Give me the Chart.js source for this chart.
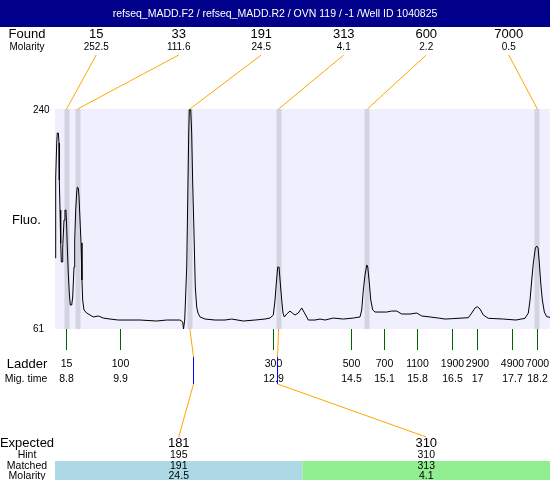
<!DOCTYPE html>
<html><head><meta charset="utf-8">
<script src="https://cdn.jsdelivr.net/npm/chart.js@4"></script>
<style>html,body{margin:0;padding:0;background:#fff;overflow:hidden}canvas{display:block}</style>
</head><body>
<canvas id="c" width="550" height="480"></canvas>
<script>
// ---------------- data ----------------
const titleText = "refseq_MADD.F2 / refseq_MADD.R2 / OVN 119 / -1 /Well ID 1040825";
const yTicks = [61, 240];
const timeRange = [8.58, 18.452];

// fluorescence trace (migration time, fluorescence)
const traceTimes = [8.586,8.594,8.614,8.626,8.646,8.660,8.666,8.680,8.694,8.706,8.726,8.734,8.760,8.779,8.799,8.813,8.825,8.845,8.865,8.885,8.913,8.933,8.959,8.973,8.993,9.013,9.025,9.045,9.059,9.079,9.099,9.118,9.132,9.158,9.212,9.278,9.344,9.444,9.543,9.677,9.842,10.275,10.608,10.808,11.073,11.127,11.143,11.167,11.207,11.227,11.247,11.259,11.287,11.306,11.326,11.352,11.378,11.406,11.432,11.472,11.572,11.771,11.971,12.104,12.336,12.569,12.769,12.868,12.934,12.968,12.994,13.022,13.048,13.073,13.101,13.127,13.153,13.201,13.267,13.313,13.367,13.432,13.500,13.546,13.600,13.632,13.765,13.865,13.965,14.130,14.330,14.529,14.663,14.697,14.729,14.763,14.797,14.817,14.849,14.877,14.916,14.962,15.062,15.196,15.295,15.395,15.495,15.660,15.794,15.894,16.059,16.225,16.358,16.492,16.823,16.891,16.957,17.002,17.056,17.122,17.222,17.521,17.774,17.954,18.020,18.054,18.088,18.120,18.160,18.188,18.214,18.239,18.267,18.299,18.339,18.387,18.453];
const traceValues = [118.8,183.9,212.3,220.5,220.5,212.3,182.2,157.8,131.0,115.5,115.5,127.7,149.7,157.8,157.8,144.0,127.7,106.6,90.3,80.5,80.5,87.0,111.4,133.4,157.8,172.5,176.5,175.7,168.4,149.7,131.0,100.9,84.6,76.5,74.0,72.4,70.8,71.6,69.9,69.1,68.3,68.3,67.5,68.3,68.3,66.7,61.0,68.3,111.4,166.0,220.5,239.4,239.4,220.5,179.8,139.1,95.2,78.9,74.0,70.8,69.1,68.3,68.3,69.1,67.5,68.3,69.1,69.9,72.4,84.6,98.4,111.4,111.4,98.4,84.6,74.0,70.8,73.2,75.6,74.0,72.4,74.0,78.1,74.8,70.8,68.3,68.3,69.1,68.3,69.9,69.1,69.9,70.8,76.5,92.7,104.9,113.1,111.4,98.4,84.6,76.5,74.8,74.8,74.8,75.6,75.6,73.2,73.2,74.0,71.6,70.8,69.9,69.1,69.4,70.2,74.0,78.1,79.1,77.3,72.4,69.7,69.1,68.3,69.7,74.0,84.6,100.9,114.7,126.9,128.5,126.9,114.7,98.4,84.6,74.8,71.0,70.5];

// found peaks
const foundSizes = [15, 33, 191, 313, 600, 7000];
const foundMolarity = [252.5, 111.6, 24.5, 4.1, 2.2, 0.5];
const foundTimes = [8.81, 9.03, 11.27, 13.04, 14.81, 18.20];

// ladder
const ladderSizes = [15, 100, 300, 500, 700, 1100, 1900, 2900, 4900, 7000];
const ladderTimes = [8.8, 9.88, 12.93, 14.48, 15.14, 15.79, 16.49, 17.0, 17.69, 18.2];

// expected / matched table
const expectedSizes = [181, 310];
const hintSizes = [195, 310];
const hintTimes = [11.34, 13.01];
const matchedSizes = [191, 313];
const matchedMolarity = [24.5, 4.1];
const matchedFoundIndex = [2, 3];
const matchColors = ['#ADD8E6', '#90EE90'];

// ---------------- drawing ----------------
const FONT = '"Liberation Sans", Arial, sans-serif';
function txt(ctx, s, x, y, size, align, color) {
  ctx.font = size + 'px ' + FONT;
  ctx.textAlign = align || 'center';
  ctx.textBaseline = 'middle';
  ctx.fillStyle = color || '#000';
  ctx.fillText(String(s), x, y);
}
function line(ctx, x1, y1, x2, y2, color) {
  ctx.beginPath();
  ctx.strokeStyle = color;
  ctx.lineWidth = 1;
  ctx.moveTo(x1, y1); ctx.lineTo(x2, y2);
  ctx.stroke();
}

const decor = {
  id: 'decor',
  beforeDatasetsDraw(chart) {
    const {ctx, chartArea: a, scales: {x}} = chart;
    ctx.save();
    ctx.fillStyle = '#EFEFFD';
    ctx.fillRect(a.left, a.top, a.right - a.left, a.bottom - a.top);
    ctx.fillStyle = '#D3D3E1';
    foundTimes.forEach(t => {
      const px = Math.round(x.getPixelForValue(t));
      ctx.fillRect(px - 2.5, a.top, 5, a.bottom - a.top);
    });
    ctx.restore();
  },
  afterDraw(chart) {
    const {ctx, chartArea: a, scales: {x, y}} = chart;
    const W = chart.width;
    ctx.save();
    // title bar
    ctx.fillStyle = '#00008B';
    ctx.fillRect(0, 0, W, 27);
    txt(ctx, titleText, W / 2, 14, 10.5, 'center', '#fff');

    // found row
    const colW = (a.right - a.left) / foundSizes.length;
    txt(ctx, 'Found', 27, 34, 13);
    txt(ctx, 'Molarity', 27, 47.5, 10);
    foundSizes.forEach((s, i) => {
      const cx = a.left + colW * (i + 0.5);
      txt(ctx, s, cx, 34, 13);
      txt(ctx, foundMolarity[i].toFixed(1), cx, 47.5, 10);
      line(ctx, cx, 55, x.getPixelForValue(foundTimes[i]), a.top, '#FFA500');
    });

    // y labels
    txt(ctx, yTicks[1], 33, y.getPixelForValue(yTicks[1]) + 1, 10, 'left');
    txt(ctx, yTicks[0], 33, y.getPixelForValue(yTicks[0]), 10, 'left');
    txt(ctx, 'Fluo.', 12, 220, 13, 'left');

    // ladder
    txt(ctx, 'Ladder', 27, 364, 13);
    txt(ctx, 'Mig. time', 26, 379, 10.5);
    ladderSizes.forEach((s, i) => {
      const px = Math.round(x.getPixelForValue(ladderTimes[i])) + 0.5;
      line(ctx, px, a.bottom, px, 350, '#006400');
      txt(ctx, s, px, 364, 10.5);
      txt(ctx, String(Math.round(ladderTimes[i] * 10) / 10), px, 379, 10.5);
    });

    // expected table
    const colW2 = (a.right - a.left) / expectedSizes.length;
    expectedSizes.forEach((s, i) => {
      const cx = a.left + colW2 * (i + 0.5);
      ctx.fillStyle = matchColors[i];
      ctx.fillRect(a.left + colW2 * i, 461, colW2, 480 - 461);
      const fx = x.getPixelForValue(foundTimes[matchedFoundIndex[i]]);
      const hx = Math.round(x.getPixelForValue(hintTimes[i])) + 0.5;
      line(ctx, fx, a.bottom, hx, 357, '#FFA500');
      line(ctx, hx, 357, hx, 384, '#0000FF');
      line(ctx, hx, 384, cx, 437, '#FFA500');
      txt(ctx, s, cx, 443, 13);
      txt(ctx, hintSizes[i], cx, 455, 10.5);
      txt(ctx, matchedSizes[i], cx, 466.5, 10.5);
      txt(ctx, matchedMolarity[i].toFixed(1), cx, 476, 10.5);
    });
    txt(ctx, 'Expected', 27, 443, 13);
    txt(ctx, 'Hint', 27, 455, 10.5);
    txt(ctx, 'Matched', 27, 466.5, 10.5);
    txt(ctx, 'Molarity', 27, 476, 10.5);
    ctx.restore();
  }
};

new Chart(document.getElementById('c').getContext('2d'), {
  type: 'line',
  data: {
    datasets: [{
      data: traceTimes.map((t, i) => ({x: t, y: traceValues[i]})),
      borderColor: '#000',
      borderWidth: 1,
      pointRadius: 0,
      tension: 0,
      fill: false
    }]
  },
  options: {
    responsive: false,
    animation: false,
    devicePixelRatio: 1,
    events: [],
    layout: {padding: {left: 55, right: 0, top: 109, bottom: 151}},
    scales: {
      x: {type: 'linear', min: timeRange[0], max: timeRange[1], display: false},
      y: {min: yTicks[0], max: yTicks[1], display: false}
    },
    plugins: {legend: {display: false}, tooltip: {enabled: false}, title: {display: false}}
  },
  plugins: [decor]
});
</script>
</body></html>
